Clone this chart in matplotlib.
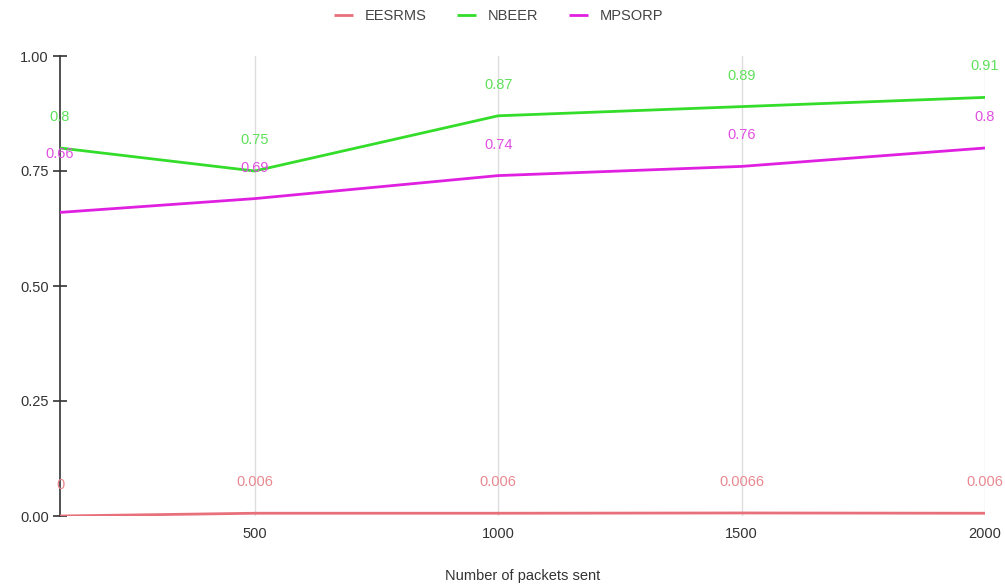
import matplotlib
matplotlib.use("Agg")
import matplotlib.pyplot as plt

plt.rcParams['font.family'] = ['Liberation Sans', 'DejaVu Sans']

packets = [100, 500, 1000, 1500, 2000]
eesrms = [0, 0.006, 0.006, 0.0066, 0.006]
nbeer = [0.8, 0.75, 0.87, 0.89, 0.91]
mpsorp = [0.66, 0.69, 0.74, 0.76, 0.8]
eesrms_txt = ["0", "0.006", "0.006", "0.0066", "0.006"]
nbeer_txt = ["0.8", "0.75", "0.87", "0.89", "0.91"]
mpsorp_txt = ["0.66", "0.69", "0.74", "0.76", "0.8"]

series = [("EESRMS", eesrms, eesrms_txt, "#e8707a", "#e88890"),
          ("NBEER", nbeer, nbeer_txt, "#33dd2a", "#5fe05a"),
          ("MPSORP", mpsorp, mpsorp_txt, "#e020e0", "#e050e0")]

fig = plt.figure(figsize=(10.05, 5.86), dpi=100)
ax = fig.add_axes([60/1005, 70/586, 925/1005, 460/586])

for name, vals, txt, col, tcol in series:
    ax.plot(packets, vals, color=col, lw=2, label=name, solid_capstyle='butt', zorder=3)
    for i, (x, y) in enumerate(zip(packets, vals)):
        off = 31
        # first magenta label got pushed up to avoid the green one
        if name == "MPSORP" and i == 0:
            off = 58
        ax.annotate(txt[i], (x, y), xytext=(0, off), textcoords='offset pixels',
                    ha='center', va='center', color=tcol, fontsize=10.5, zorder=4)

ax.set_xlim(100, 2000)
ax.set_ylim(0, 1)
ax.set_xticks([500, 1000, 1500, 2000])
ax.set_yticks([0, 0.25, 0.5, 0.75, 1.0])
ax.set_yticklabels(["0.00", "0.25", "0.50", "0.75", "1.00"])
ax.grid(axis='x', color='#dddddd', lw=1)
ax.set_axisbelow(True)

for s in ['top', 'right', 'bottom']:
    ax.spines[s].set_visible(False)
ax.spines['left'].set_color('#333333')
ax.spines['left'].set_linewidth(1.2)

ax.tick_params(axis='y', direction='inout', length=10, width=1.2, color='#333333',
               labelsize=10.5, labelcolor='#333333', pad=3)
ax.tick_params(axis='x', length=0, labelsize=10.5, labelcolor='#333333', pad=8)

ax.set_xlabel("Number of packets sent", fontsize=10.5, color='#333333', labelpad=20)

ax.legend(loc='lower center', bbox_to_anchor=(0.474, 1.043), ncol=3, frameon=False,
          fontsize=10.5, handlelength=1.3, handletextpad=0.8, columnspacing=2.1,
          labelcolor='#444444')

fig.savefig("out.png", dpi=100)
